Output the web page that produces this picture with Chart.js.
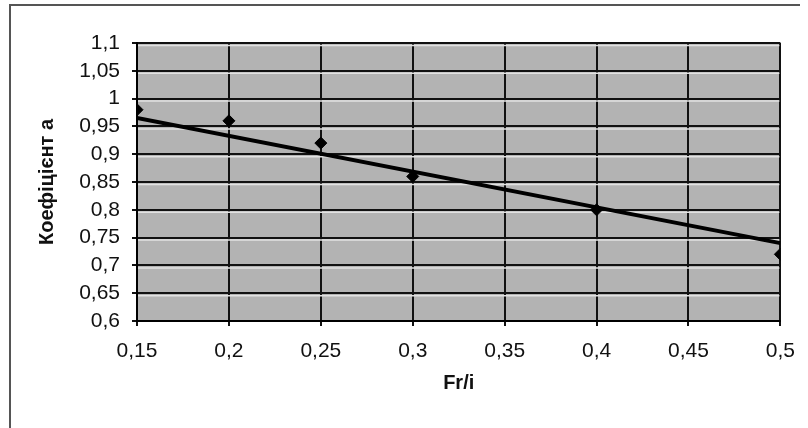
<!DOCTYPE html>
<html>
<head>
<meta charset="utf-8">
<script src="https://cdn.jsdelivr.net/npm/chart.js@4"></script>
<style>
  html, body { margin: 0; padding: 0; background: #fff; }
  #wrap { width: 808px; height: 428px; }
</style>
</head>
<body>
<div id="wrap"><canvas id="koefChart" width="808" height="428"></canvas></div>
<script>
// значення
const frValues = [0.15, 0.2, 0.25, 0.3, 0.4, 0.5];
const koefValues = [0.98, 0.96, 0.92, 0.86, 0.80, 0.72];
// лінія тренду (кінцеві точки)
const trendX = [0.15, 0.5];
const trendY = [0.965, 0.74];

const xTitle = 'Fr/i';
const yTitle = 'Коефіцієнт а';

function fmt(v) {
    return String(Math.round(v * 100) / 100).replace('.', ',');
}

// фон області побудови + рамка сторінки
const plotBg = {
    id: 'plotBg',
    beforeDraw(chart) {
        const { ctx, chartArea: a } = chart;
        ctx.save();
        ctx.fillStyle = '#b3b3b3';
        ctx.fillRect(a.left, a.top, a.right - a.left, a.bottom - a.top);
        ctx.restore();
    },
    beforeDatasetsDraw(chart) {
        // світла смуга під кожною горизонтальною лінією сітки
        const { ctx, chartArea: a, scales } = chart;
        ctx.save();
        ctx.strokeStyle = '#e2e2e2';
        ctx.lineWidth = 1.5;
        scales.y.ticks.forEach(t => {
            const y = scales.y.getPixelForValue(t.value) + 2.5;
            if (y < a.bottom - 1) {
                ctx.beginPath();
                ctx.moveTo(a.left + 1, y);
                ctx.lineTo(a.right - 1, y);
                ctx.stroke();
            }
        });
        ctx.restore();
    },
    afterDraw(chart) {
        const ctx = chart.ctx;
        ctx.save();
        ctx.strokeStyle = '#555';
        ctx.lineWidth = 2;
        ctx.beginPath();
        ctx.moveTo(10, 428);
        ctx.lineTo(10, 5);
        ctx.lineTo(800, 5);
        ctx.stroke();
        ctx.restore();
    }
};

const ctx = document.getElementById('koefChart').getContext('2d');
new Chart(ctx, {
    type: 'scatter',
    data: {
        datasets: [
            {
                label: 'trend',
                data: trendX.map((x, i) => ({ x: x, y: trendY[i] })),
                showLine: true,
                borderColor: '#000',
                borderWidth: 4,
                pointRadius: 0
            },
            {
                label: 'a',
                data: frValues.map((x, i) => ({ x: x, y: koefValues[i] })),
                showLine: false,
                pointStyle: 'rectRot',
                pointRadius: 6,
                backgroundColor: '#000',
                borderColor: '#000'
            }
        ]
    },
    options: {
        responsive: false,
        animation: false,
        layout: { padding: { left: 0, top: 43, right: 26, bottom: 0 } },
        plugins: {
            legend: { display: false },
            tooltip: { enabled: false }
        },
        scales: {
            x: {
                type: 'linear',
                min: 0.15,
                max: 0.5,
                afterFit(s) { s.height = 107; },
                ticks: {
                    stepSize: 0.05,
                    autoSkip: false,
                    maxRotation: 0,
                    padding: 13,
                    color: '#111',
                    font: { family: 'Liberation Sans', size: 21 },
                    callback: v => fmt(v)
                },
                grid: { color: '#111', lineWidth: 2, tickLength: 5 },
                border: { color: '#000', width: 2 },
                title: {
                    display: true,
                    text: xTitle,
                    color: '#111',
                    font: { family: 'Liberation Sans', size: 20, weight: 'bold' },
                    padding: { top: 0, bottom: 33 }
                }
            },
            y: {
                min: 0.6,
                max: 1.1,
                afterFit(s) { s.width = 137; },
                ticks: {
                    stepSize: 0.05,
                    autoSkip: false,
                    padding: 12,
                    color: '#111',
                    font: { family: 'Liberation Sans', size: 21 },
                    callback: v => fmt(v)
                },
                grid: { color: '#111', lineWidth: 2, tickLength: 5 },
                border: { color: '#000', width: 2 },
                title: {
                    display: true,
                    text: yTitle,
                    color: '#111',
                    font: { family: 'Liberation Sans', size: 20, weight: 'bold' },
                    padding: { top: 35, bottom: 0 }
                }
            }
        }
    },
    plugins: [plotBg]
});
</script>
</body>
</html>
